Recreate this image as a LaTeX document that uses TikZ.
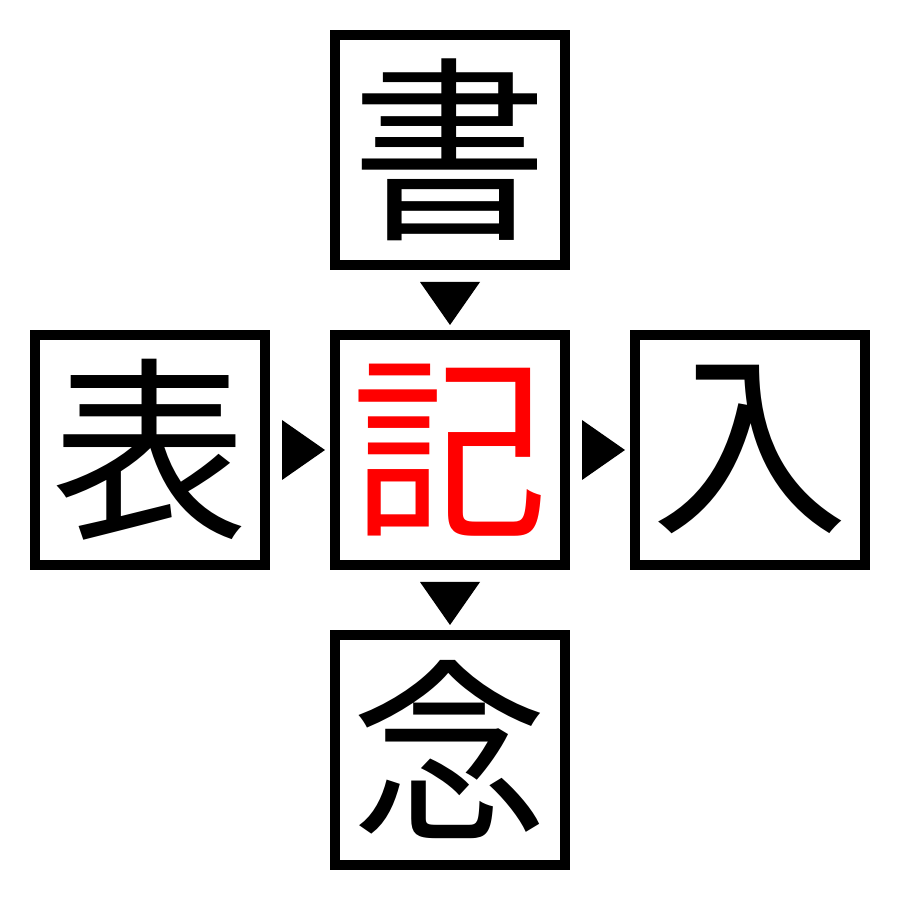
\documentclass[tikz,border=0pt]{standalone}
\usepackage{fontspec}
\newfontfamily\cjk{Noto Sans CJK JP}
\usetikzlibrary{calc}
\definecolor{kred}{RGB}{255,0,0}
\tikzset{
  kbox/.style={draw=black, line width=0.1cm, minimum size=2.3cm, inner sep=0pt, fill=white,
    font=\cjk\fontsize{56pt}{56pt}\selectfont},
  tri/.style={fill=black}
}
\begin{document}
\begin{tikzpicture}
\useasboundingbox (0,0) rectangle (9,9);
\node[kbox] (t) at (4.5,7.5) {書};
\node[kbox, text=kred] (m) at (4.5,4.5) {記};
\node[kbox] (l) at (1.5,4.5) {表};
\node[kbox] (r) at (7.5,4.5) {入};
\node[kbox] (b) at (4.5,1.5) {念};
% triangles
\fill[tri] ($(t.south)+(-0.3,-0.12)$) -- ($(t.south)+(0.3,-0.12)$) -- ($(m.north)+(0,0.05)$) -- cycle;
\fill[tri] ($(m.south)+(-0.3,-0.12)$) -- ($(m.south)+(0.3,-0.12)$) -- ($(b.north)+(0,0.05)$) -- cycle;
\fill[tri] ($(l.east)+(0.12,0.3)$) -- ($(l.east)+(0.12,-0.3)$) -- ($(m.west)+(-0.05,0)$) -- cycle;
\fill[tri] ($(m.east)+(0.12,0.3)$) -- ($(m.east)+(0.12,-0.3)$) -- ($(r.west)+(-0.05,0)$) -- cycle;
\end{tikzpicture}
\end{document}
